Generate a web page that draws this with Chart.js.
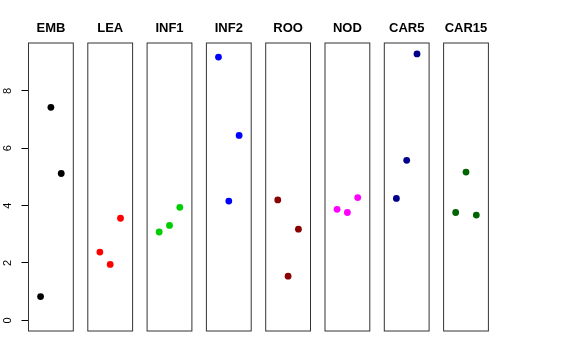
<!DOCTYPE html>
<html>
<head>
<meta charset="utf-8">
<script src="https://cdn.jsdelivr.net/npm/chart.js@4.4.1/dist/chart.umd.min.js"></script>
<style>
  html, body { margin: 0; padding: 0; background: #fff; }
  #wrap { position: relative; width: 576px; height: 360px; overflow: hidden; }
  #wrap canvas { position: absolute; top: 0; }
</style>
</head>
<body>
<div id="wrap"></div>
<script>
// ---- data ----
const categories = ['EMB', 'LEA', 'INF1', 'INF2', 'ROO', 'NOD', 'CAR5', 'CAR15'];
const positions = [1, 2, 3];
const valuesEMB   = [0.83, 7.43, 5.12];
const valuesLEA   = [2.38, 1.95, 3.56];
const valuesINF1  = [3.08, 3.31, 3.94];
const valuesINF2  = [9.18, 4.16, 6.45];
const valuesROO   = [4.20, 1.54, 3.18];
const valuesNOD   = [3.87, 3.76, 4.28];
const valuesCAR5  = [4.25, 5.58, 9.29];
const valuesCAR15 = [3.76, 5.17, 3.67];
const seriesValues = [valuesEMB, valuesLEA, valuesINF1, valuesINF2, valuesROO, valuesNOD, valuesCAR5, valuesCAR15];
const yTicks = [0, 2, 4, 6, 8];

// ---- style ----
const colors = ['#000000', '#FF0000', '#00CD00', '#0000FF', '#8B0000', '#FF00FF', '#00008B', '#006400'];
const panelLeft0 = 28.5, panelPitch = 59.3, panelW = 44.8;
const areaTop = 43, areaBottom = 331, H = 360;
const yMin = -0.372, yMax = 9.672;

const boxPlugin = {
  id: 'panelBox',
  afterDraw(chart) {
    const a = chart.chartArea, ctx = chart.ctx;
    ctx.save();
    ctx.strokeStyle = '#333';
    ctx.lineWidth = 1;
    ctx.strokeRect(a.left, a.top, a.right - a.left, a.bottom - a.top);
    ctx.restore();
  }
};

const wrap = document.getElementById('wrap');
categories.forEach((cat, i) => {
  const pl = panelLeft0 + i * panelPitch;
  const withAxis = i === 0;
  const L = withAxis ? 0 : Math.floor(pl - 6);
  const W = Math.ceil(pl + panelW + 6) - L;
  const cv = document.createElement('canvas');
  cv.width = W; cv.height = H;
  cv.style.left = L + 'px';
  cv.style.width = W + 'px'; cv.style.height = H + 'px';
  wrap.appendChild(cv);

  const padLeft = withAxis ? 0 : pl - L;
  const padRight = W - (pl + panelW - L);

  new Chart(cv, {
    type: 'scatter',
    data: {
      datasets: [{
        data: positions.map((x, j) => ({ x: x, y: seriesValues[i][j] })),
        backgroundColor: colors[i],
        borderWidth: 0,
        pointRadius: 3.4,
        pointHoverRadius: 3.4
      }]
    },
    options: {
      responsive: false,
      animation: false,
      devicePixelRatio: 1,
      events: [],
      layout: { padding: { left: padLeft, right: padRight, top: 0, bottom: H - areaBottom } },
      plugins: {
        legend: { display: false },
        tooltip: { enabled: false },
        title: {
          display: true,
          fullSize: false,
          text: cat,
          color: '#000',
          font: { family: 'Liberation Sans, Arial, sans-serif', size: 13, weight: 'bold' },
          padding: { top: 20.2, bottom: 7.2 }
        }
      },
      scales: {
        x: { type: 'linear', display: false, min: -0.17, max: 4.17 },
        y: {
          type: 'linear',
          display: withAxis,
          min: yMin, max: yMax,
          afterBuildTicks(scale) { scale.ticks = yTicks.map(v => ({ value: v })); },
          afterFit(scale) { if (withAxis) scale.width = panelLeft0; },
          border: { display: false },
          grid: { display: true, drawOnChartArea: false, drawTicks: true, tickLength: 7, color: '#000', lineWidth: 1 },
          ticks: {
            color: '#000',
            minRotation: 90, maxRotation: 90,
            crossAlign: 'center',
            padding: 10,
            font: { family: 'Liberation Sans, Arial, sans-serif', size: 11 },
            callback: (v) => String(v)
          }
        }
      }
    },
    plugins: [boxPlugin]
  });
});
</script>
</body>
</html>
